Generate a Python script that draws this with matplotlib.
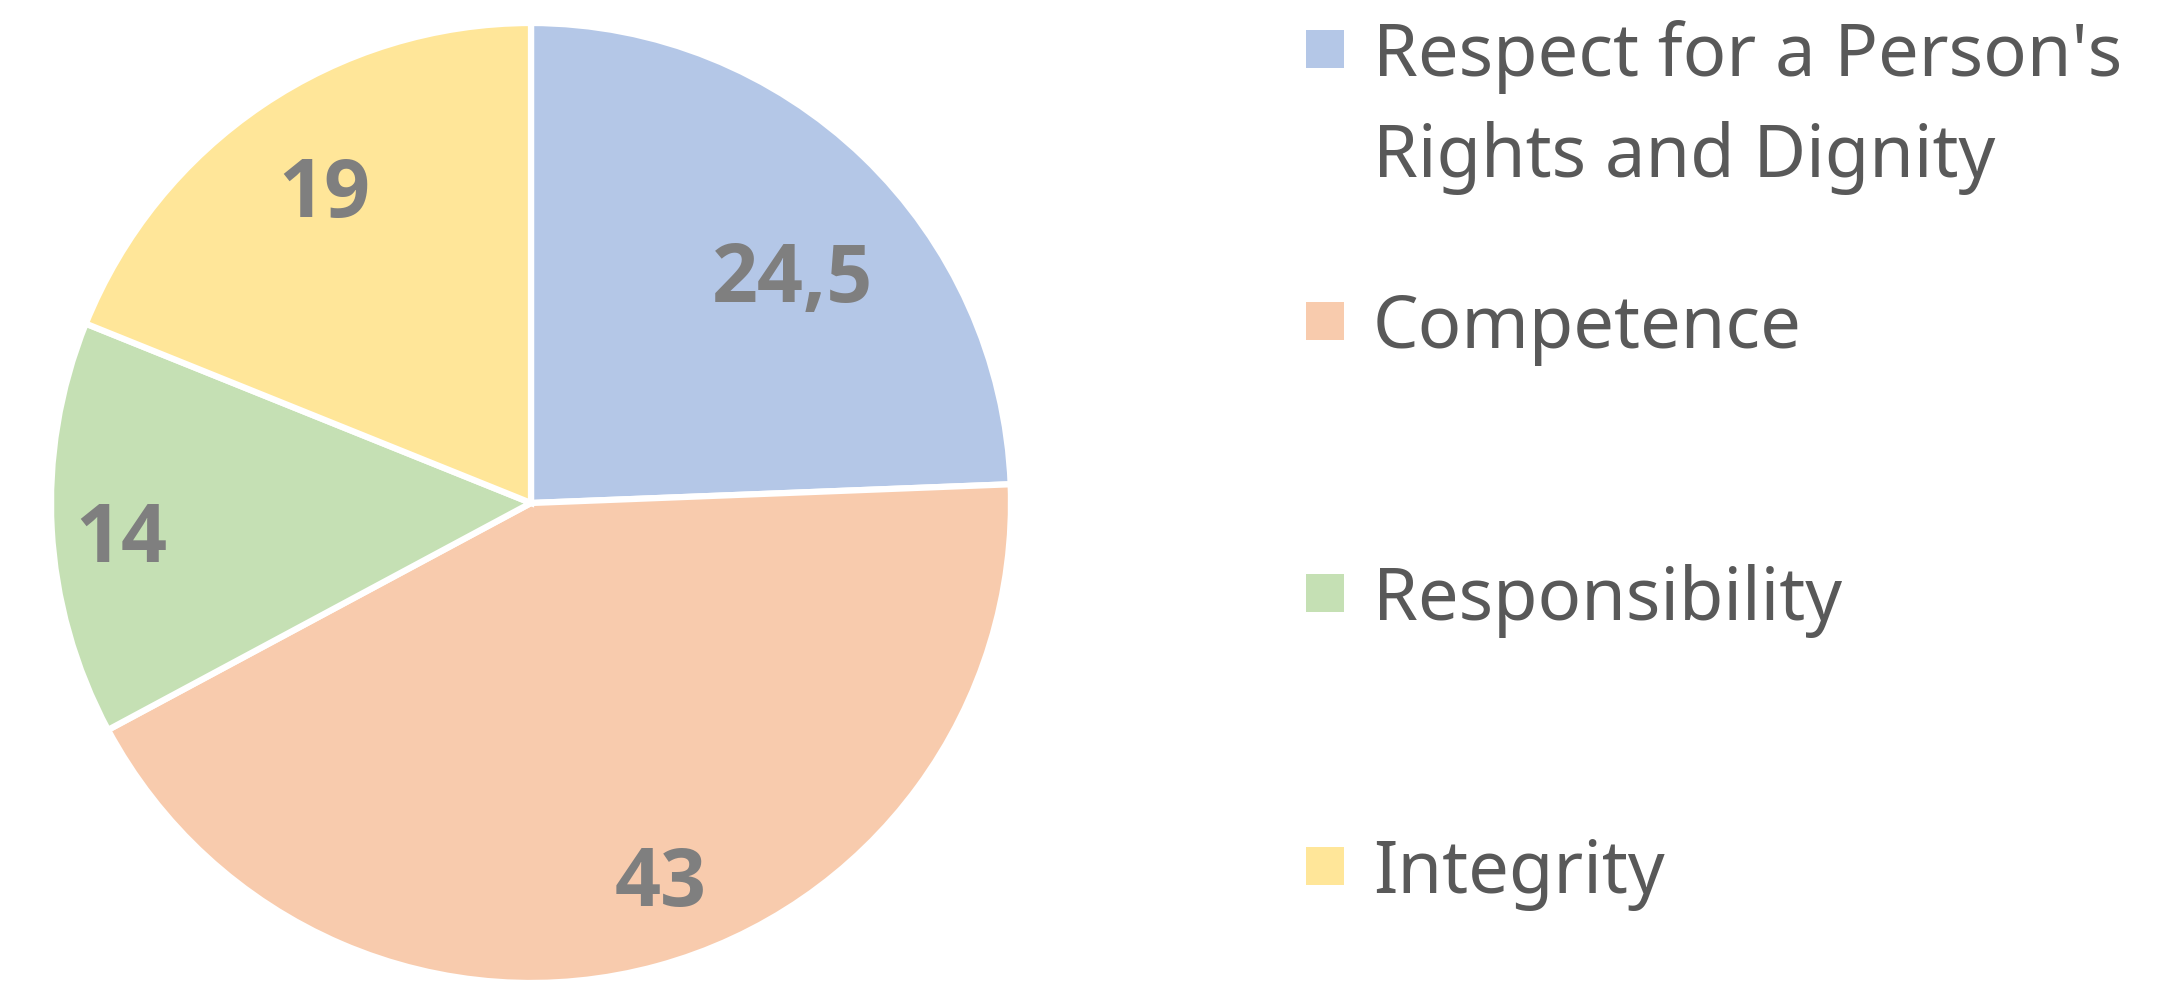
import matplotlib
matplotlib.use("Agg")
import matplotlib.pyplot as plt
from matplotlib.patches import Rectangle
import numpy as np

categories = ["Respect for a Person's\nRights and Dignity", "Competence", "Responsibility", "Integrity"]
values = [24.5, 43, 14, 19]
value_labels = ["24,5", "43", "14", "19"]
colors = ["#b4c7e7", "#f8cbad", "#c5e0b4", "#ffe699"]

W, H = 2183, 987
fig = plt.figure(figsize=(W / 100, H / 100), dpi=100)
fig.patch.set_facecolor("white")

# pie axes: centre (531, 504) px from top-left, radius 480 px
cx, cy, r = 531, 504, 480
ax = fig.add_axes([(cx - r) / W, (H - cy - r) / H, 2 * r / W, 2 * r / H])
wedges, _ = ax.pie(values, colors=colors, startangle=90, counterclock=False,
                   wedgeprops=dict(edgecolor="white", linewidth=4.5))
ax.set_xlim(-1, 1)
ax.set_ylim(-1, 1)
ax.set_aspect("equal")
ax.axis("off")

# data labels: radius and small angle nudge (deg) like Excel's best-fit
label_r = [0.73, 0.82, 0.855, 0.79]
label_nudge = [-4.5, 4.0, 0.7, -1.0]
for w, lab, lr, dn in zip(wedges, value_labels, label_r, label_nudge):
    ang = np.deg2rad((w.theta1 + w.theta2) / 2 + dn)
    ax.text(lr * np.cos(ang), lr * np.sin(ang), lab, ha="center", va="center_baseline",
            fontsize=58, fontweight="bold", color="#7f7f7f", family="Open Sans")

# legend drawn by hand (pixel rows from the top)
marker_y = [50, 322, 594, 867]
mx, ms, tx = 1306, 38, 1373
for cat, col, y in zip(categories, colors, marker_y):
    fig.patches.append(Rectangle((mx / W, (H - y - ms / 2) / H), ms / W, ms / H,
                                 transform=fig.transFigure, facecolor=col, edgecolor="none"))
    for i, line in enumerate(cat.split("\n")):
        fig.text(tx / W, (H - y - 26 - i * 101) / H, line, ha="left", va="baseline",
                 fontsize=52, color="#595959", family="Noto Sans")

fig.savefig("out.png", dpi=100)
